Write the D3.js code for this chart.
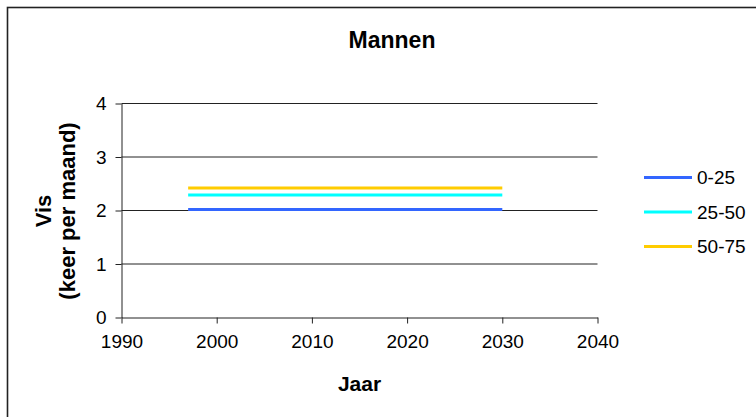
<!DOCTYPE html>
<html><head><meta charset="utf-8">
<script src="https://cdn.jsdelivr.net/npm/d3@7"></script>
<style>body{margin:0;background:#fff}svg{display:block;font-family:Arial,"Liberation Sans",sans-serif}</style>
</head><body>
<svg id="c" width="756" height="417"></svg>
<script>
const years = [1997, 2005, 2010, 2015, 2020, 2025, 2030];
const series0_25 = [2.02, 2.02, 2.02, 2.02, 2.02, 2.02, 2.02];
const series25_50 = [2.29, 2.29, 2.29, 2.29, 2.29, 2.29, 2.29];
const series50_75 = [2.42, 2.42, 2.42, 2.42, 2.42, 2.42, 2.42];
const seriesNames = ["0-25", "25-50", "50-75"];
const seriesColors = ["#3366ff", "#00ffff", "#ffcc00"];
const xTicks = [1990, 2000, 2010, 2020, 2030, 2040];
const yTicks = [0, 1, 2, 3, 4];
const title = "Mannen";
const xTitle = "Jaar";
const yTitle = ["Vis", "(keer per maand)"];

const svg = d3.select("#c");
const x = d3.scaleLinear().domain([1990, 2040]).range([121.5, 597.5]);
const y = d3.scaleLinear().domain([0, 4]).range([317.5, 103.5]);

// frame
svg.append("rect").attr("x", 7.5).attr("y", 7.5).attr("width", 800).attr("height", 450)
  .attr("fill", "none").attr("stroke", "#222").attr("stroke-width", 1.6);

// gridlines
svg.append("g").selectAll("line").data(yTicks.filter(d => d > 0)).join("line")
  .attr("x1", x(1990)).attr("x2", x(2040)).attr("y1", d => y(d)).attr("y2", d => y(d))
  .attr("stroke", "#222").attr("stroke-width", 1);

// axes
const xAxis = svg.append("g").attr("transform", `translate(0,${y(0)})`)
  .call(d3.axisBottom(x).tickValues(xTicks).tickFormat(d3.format("d")).tickSize(6).tickSizeOuter(0).tickPadding(11));
const yAxis = svg.append("g").attr("transform", `translate(${x(1990)},0)`)
  .call(d3.axisLeft(y).tickValues(yTicks).tickFormat(d3.format("d")).tickSize(6).tickSizeOuter(0).tickPadding(9));
[xAxis, yAxis].forEach(a => {
  a.select(".domain").attr("stroke", "#222");
  a.selectAll(".tick line").attr("stroke", "#222");
  a.selectAll("text").attr("font-size", 19).attr("fill", "#000").attr("font-family", "Arial, 'Liberation Sans', sans-serif");
});

// lines
const allSeries = [series0_25, series25_50, series50_75];
const line = d3.line().x((d, i) => x(years[i])).y(d => y(d));
allSeries.forEach((s, k) => {
  svg.append("path").datum(s).attr("d", line).attr("fill", "none")
    .attr("stroke", seriesColors[k]).attr("stroke-width", 3);
});

// titles
svg.append("text").attr("x", 392).attr("y", 48).attr("text-anchor", "middle")
  .attr("font-size", 23).attr("font-weight", "bold").text(title);
svg.append("text").attr("x", x(2015)).attr("y", 391).attr("text-anchor", "middle")
  .attr("font-size", 21).attr("font-weight", "bold").text(xTitle);
const yt = svg.append("text").attr("transform", "translate(51,211) rotate(-90)")
  .attr("text-anchor", "middle").attr("font-size", 22).attr("font-weight", "bold");
yt.append("tspan").attr("x", 0).attr("y", 0).text(yTitle[0]);
yt.append("tspan").attr("x", 0).attr("y", 24).text(yTitle[1]);

// legend
const lg = svg.append("g");
seriesNames.forEach((n, k) => {
  const ly = 177.5 + k * 34.5;
  lg.append("line").attr("x1", 644).attr("x2", 692).attr("y1", ly).attr("y2", ly)
    .attr("stroke", seriesColors[k]).attr("stroke-width", 3);
  lg.append("text").attr("x", 697).attr("y", ly).attr("dy", "0.35em")
    .attr("font-size", 19).text(n);
});
</script>
</body></html>
